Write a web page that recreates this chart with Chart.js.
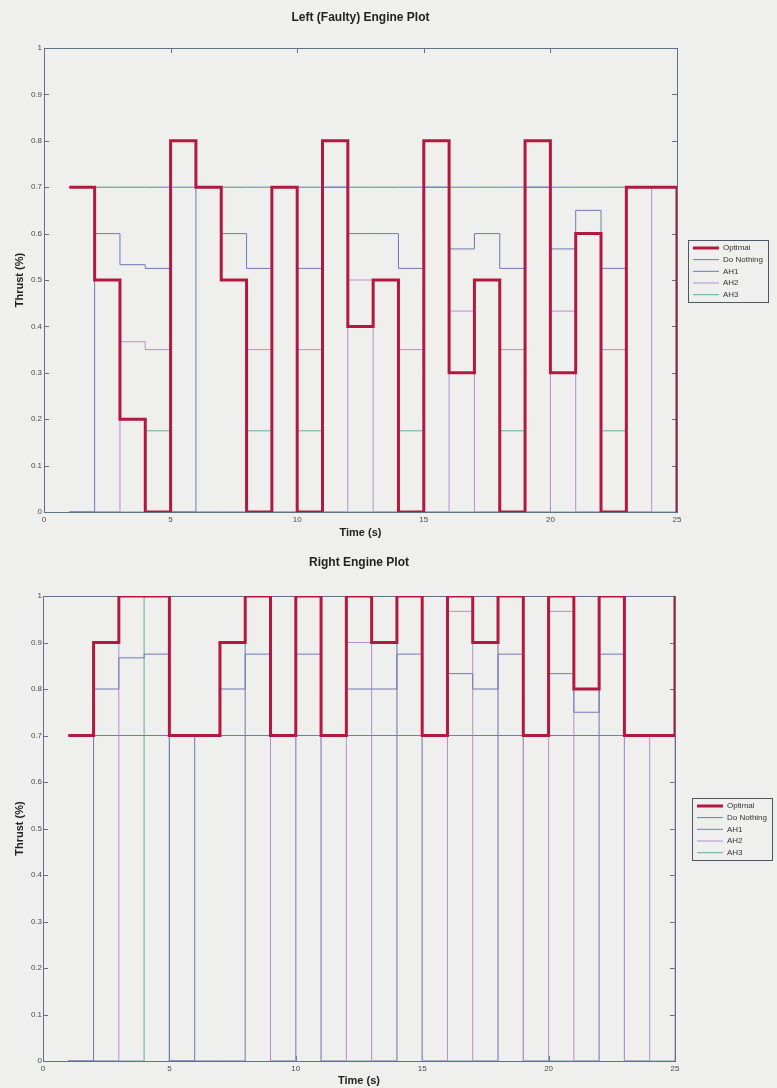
<!DOCTYPE html>
<html>
<head>
<meta charset="utf-8">
<script src="https://cdn.jsdelivr.net/npm/chart.js@4.4.1/dist/chart.umd.min.js"></script>
<style>
  body { margin: 0; background: #efefed; }
  canvas { display: block; }
</style>
</head>
<body>
<canvas id="leftChart" width="777" height="550"></canvas>
<canvas id="rightChart" width="777" height="538"></canvas>
<script>
// step start times (s)
var timeArr = [1,2,3,4,5,6,7,8,9,10,11,12,13,14,15,16,17,18,19,20,21,22,23,24,25];

// left (faulty) engine thrust
var leftOptimal   = [0.7,0.5,0.2,0,0.8,0.7,0.5,0,0.7,0,0.8,0.4,0.5,0,0.8,0.3,0.5,0,0.8,0.3,0.6,0,0.7,0.7,0];
var leftDoNothing = [0.7,0.7,0.7,0.7,0.7,0.7,0.7,0.7,0.7,0.7,0.7,0.7,0.7,0.7,0.7,0.7,0.7,0.7,0.7,0.7,0.7,0.7,0.7,0.7,0.7];
var leftAH1 = [0,0.6,0.533,0.525,0,0.7,0.6,0.525,0.7,0.525,0.7,0.6,0.6,0.525,0.7,0.567,0.6,0.525,0.7,0.567,0.65,0.525,0.7,0.7,0.7];
var leftAH2 = [0,0,0.367,0.35,0,0,0,0.35,0,0.35,0,0.5,0,0.35,0,0.433,0,0.35,0,0.433,0,0.35,0,0.7,0];
var leftAH3 = [0,0,0,0.175,0,0,0,0.175,0,0.175,0,0,0,0.175,0,0,0,0.175,0,0,0,0.175,0,0,0];

// right engine thrust
var rightOptimal   = [0.7,0.9,1,1,0.7,0.7,0.9,1,0.7,1,0.7,1,0.9,1,0.7,1,0.9,1,0.7,1,0.8,1,0.7,0.7,1];
var rightDoNothing = [0.7,0.7,0.7,0.7,0.7,0.7,0.7,0.7,0.7,0.7,0.7,0.7,0.7,0.7,0.7,0.7,0.7,0.7,0.7,0.7,0.7,0.7,0.7,0.7,0.7];
var rightAH1 = [0,0.8,0.867,0.875,0,0.7,0.8,0.875,0.7,0.875,0.7,0.8,0.8,0.875,0.7,0.833,0.8,0.875,0.7,0.833,0.75,0.875,0.7,0.7,0.7];
var rightAH2 = [0,0,1,1,0,0,0,1,0,1,0,0.9,0,1,0,0.967,0,1,0,0.967,0,1,0,0.7,0];
var rightAH3 = [0,0,0,1,0,0,0,1,0,1,0,0,0,1,0,0,0,1,0,0,0,1,0,0,0];

var seriesNames = ['Optimal', 'Do Nothing', 'AH1', 'AH2', 'AH3'];
var seriesColors = ['#b3193f', '#5f82b8', '#7178b4', '#b68dcf', '#63ab9c'];
var seriesWidths = [3, 1, 1, 1, 1];

var FONT = "'Liberation Sans', Arial, sans-serif";
var boxColor = '#5f7189';

function toPoints(values) {
    return timeArr.map(function(t, i) { return {x: t, y: values[i]}; });
}

// axes box with inward tick marks, drawn under the lines like matlab
var axesBox = {
    id: 'axesBox',
    beforeDatasetsDraw: function(chart) {
        var a = chart.chartArea;
        var ctx = chart.ctx;
        ctx.save();
        ctx.strokeStyle = boxColor;
        ctx.lineWidth = 1;
        ctx.strokeRect(Math.round(a.left) + 0.5, Math.round(a.top) + 0.5,
            Math.round(a.right - a.left), Math.round(a.bottom - a.top));
        ctx.beginPath();
        chart.scales.x.ticks.forEach(function(t) {
            var px = Math.round(chart.scales.x.getPixelForValue(t.value)) + 0.5;
            ctx.moveTo(px, a.bottom); ctx.lineTo(px, a.bottom - 5);
            ctx.moveTo(px, a.top); ctx.lineTo(px, a.top + 5);
        });
        chart.scales.y.ticks.forEach(function(t) {
            var py = Math.round(chart.scales.y.getPixelForValue(t.value)) + 0.5;
            ctx.moveTo(a.left, py); ctx.lineTo(a.left + 5, py);
            ctx.moveTo(a.right, py); ctx.lineTo(a.right - 5, py);
        });
        ctx.stroke();
        ctx.restore();
    }
};

// frame around the legend entries
var legendBox = {
    id: 'legendBox',
    afterDraw: function(chart) {
        var boxes = chart.legend && chart.legend.legendHitBoxes;
        if (!boxes || !boxes.length) return;
        var first = boxes[0];
        var last = boxes[boxes.length - 1];
        var ctx = chart.ctx;
        var x0 = Math.round(first.left - 5) + 0.5;
        var y0 = Math.round(first.top - 4) + 0.5;
        var h = Math.round(last.top + last.height + 4 - y0);
        ctx.save();
        ctx.strokeStyle = '#4b5768';
        ctx.lineWidth = 1;
        ctx.strokeRect(x0, y0, 80, h);
        ctx.restore();
    }
};

function drawEnginePlot(canvasId, title, valuesList, lay) {
    var datasets = valuesList.map(function(values, i) {
        return {
            label: seriesNames[i],
            data: toPoints(values),
            borderColor: seriesColors[i],
            backgroundColor: seriesColors[i],
            borderWidth: seriesWidths[i],
            stepped: true,
            pointRadius: 0,
            fill: false,
            borderJoinStyle: 'miter',
            borderCapStyle: 'butt'
        };
    });

    var ctx = document.getElementById(canvasId);
    return new Chart(ctx, {
        type: 'line',
        data: { datasets: datasets },
        plugins: [axesBox, legendBox],
        options: {
            responsive: false,
            animation: false,
            layout: { padding: { left: 0, top: 0, right: lay.padRight, bottom: lay.padBottom } },
            plugins: {
                title: { display: false },
                tooltip: { enabled: false },
                legend: {
                    position: 'right',
                    align: 'start',
                    title: { display: true, text: ' ', font: { size: 1 }, padding: { top: lay.legendTop, bottom: 0 } },
                    labels: {
                        usePointStyle: true,
                        pointStyle: 'line',
                        pointStyleWidth: 26,
                        padding: 3.7,
                        color: '#333',
                        font: { family: FONT, size: 8 }
                    }
                }
            },
            scales: {
                x: {
                    type: 'linear',
                    position: 'bottom',
                    min: 0,
                    max: 25,
                    grid: { display: false, drawTicks: false },
                    border: { display: false },
                    ticks: { stepSize: 5, padding: 3, color: '#4a4a4a', font: { family: FONT, size: 8 } },
                    title: { display: true, text: 'Time (s)', color: '#222', padding: { top: 0, bottom: 0 },
                             font: { family: FONT, size: 11, weight: 'bold' } },
                    afterFit: function(s) { s.height = lay.xAxisH; }
                },
                x2: {
                    type: 'linear',
                    position: 'top',
                    min: 0,
                    max: 25,
                    grid: { display: false, drawTicks: false },
                    border: { display: false },
                    ticks: { display: false },
                    title: { display: true, text: title, color: '#222', padding: { top: lay.titlePad, bottom: 0 },
                             font: { family: FONT, size: 12, weight: 'bold' } },
                    afterFit: function(s) { s.height = lay.topH; }
                },
                y: {
                    type: 'linear',
                    position: 'left',
                    min: 0,
                    max: 1,
                    grid: { display: false, drawTicks: false },
                    border: { display: false },
                    ticks: {
                        stepSize: 0.1,
                        padding: lay.yTickPad,
                        color: '#4a4a4a',
                        font: { family: FONT, size: 8 },
                        callback: function(v) { return String(Math.round(v * 10) / 10); }
                    },
                    title: { display: true, text: 'Thrust (%)', color: '#222', padding: { top: 13.4, bottom: 0 },
                             font: { family: FONT, size: 11, weight: 'bold' } },
                    afterFit: function(s) { s.width = lay.leftW; }
                },
                y2: {
                    type: 'linear',
                    position: 'right',
                    min: 0,
                    max: 1,
                    grid: { display: false, drawTicks: false },
                    border: { display: false },
                    ticks: { display: false },
                    afterFit: function(s) { s.width = lay.rightW; }
                }
            }
        }
    });
}

drawEnginePlot('leftChart', 'Left (Faulty) Engine Plot',
    [leftOptimal, leftDoNothing, leftAH1, leftAH2, leftAH3],
    { padRight: 4, padBottom: 10.4, xAxisH: 27.6, topH: 48, titlePad: 10.8, leftW: 44, rightW: 12.3, yTickPad: 2, legendTop: 239 });

drawEnginePlot('rightChart', 'Right Engine Plot',
    [rightOptimal, rightDoNothing, rightAH1, rightAH2, rightAH3],
    { padRight: 0, padBottom: 0, xAxisH: 27, topH: 46, titlePad: 5.8, leftW: 43, rightW: 18.3, yTickPad: 1, legendTop: 247 });
</script>
</body>
</html>
